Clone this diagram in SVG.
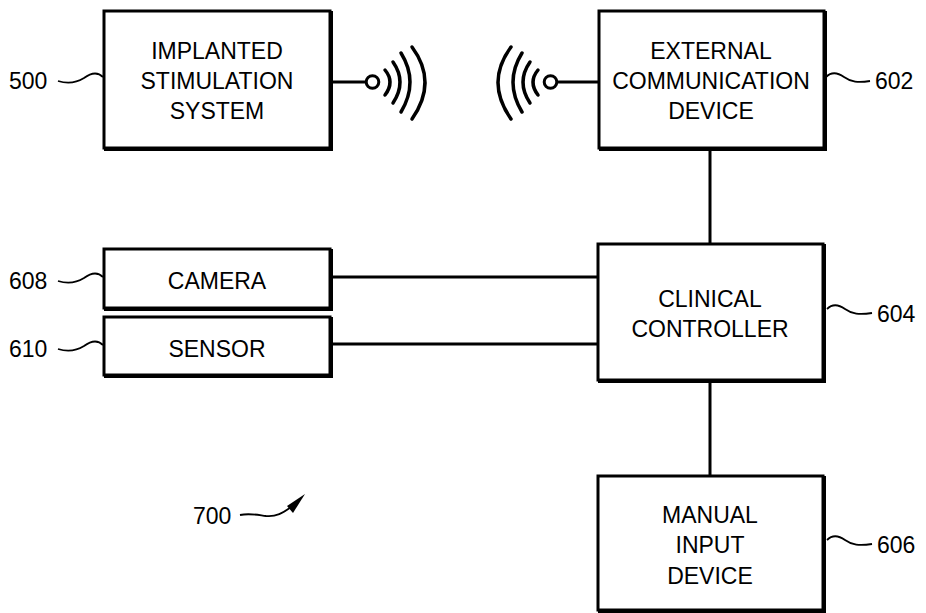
<svg xmlns="http://www.w3.org/2000/svg" width="926" height="613" viewBox="0 0 926 613">
<style>
.box{fill:#fff;stroke:#000;stroke-width:3}
.sh{fill:none;stroke:#000;stroke-width:3}
.t{font-family:"Liberation Sans",Arial,sans-serif;font-size:23px;fill:#000;text-anchor:middle}
.lab{font-family:"Liberation Sans",Arial,sans-serif;font-size:23px;fill:#000}
.ln{fill:none;stroke:#000;stroke-width:3}
.ld{fill:none;stroke:#000;stroke-width:1.8}
.arc{fill:none;stroke:#000;stroke-width:3.5;stroke-linecap:round}
</style>
<rect width="926" height="613" fill="#fff"/>
<g id="connectors">
<line class="ln" x1="332" y1="82" x2="366" y2="82"/>
<circle class="ln" cx="372.5" cy="82" r="6.3"/>
<path class="arc" d="M385,70 Q395,82 385,95"/>
<path class="arc" d="M393,62 Q407,82 393,103"/>
<path class="arc" d="M401,53 Q419,82 401,112"/>
<path class="arc" d="M412,47 Q438,82 412,119"/>
<line class="ln" x1="557" y1="82" x2="598" y2="82"/>
<circle class="ln" cx="550.5" cy="82" r="6.3"/>
<path class="arc" d="M538,70 Q528,82 538,95"/>
<path class="arc" d="M530,62 Q516,82 530,103"/>
<path class="arc" d="M522,53 Q504,82 522,112"/>
<path class="arc" d="M511,47 Q485,82 511,119"/>
<line class="ln" x1="710" y1="150" x2="710" y2="244"/>
<line class="ln" x1="710" y1="382" x2="710" y2="476"/>
<line class="ln" x1="332" y1="277" x2="598" y2="277"/>
<line class="ln" x1="332" y1="344" x2="598" y2="344"/>
</g>
<g id="node-500">
<rect class="box" x="104" y="11" width="226" height="137"/>
<path class="sh" d="M331.5,11 V149.5 H104"/>
<text class="t" x="217" y="59">IMPLANTED</text>
<text class="t" x="217" y="89">STIMULATION</text>
<text class="t" x="217" y="119">SYSTEM</text>
<text class="lab" x="9" y="89">500</text>
<path class="ld" d="M58,81 C68,84 76,83 84,78 C92,72 98,72 103,77"/>
</g>
<g id="node-602">
<rect class="box" x="599" y="11" width="225" height="137"/>
<path class="sh" d="M825.5,11 V149.5 H599"/>
<text class="t" x="711" y="59">EXTERNAL</text>
<text class="t" x="711" y="89">COMMUNICATION</text>
<text class="t" x="711" y="119">DEVICE</text>
<text class="lab" x="875" y="89">602</text>
<path class="ld" d="M826,77 C831,72 837,72 844,77 C851,82 858,83 870,81"/>
</g>
<g id="node-608">
<rect class="box" x="104" y="249" width="226" height="59"/>
<path class="sh" d="M331.5,249 V309.5 H104"/>
<text class="t" x="217" y="289">CAMERA</text>
<text class="lab" x="9" y="289">608</text>
<path class="ld" d="M58,281 C68,284 76,283 84,278 C92,272 98,272 103,277"/>
</g>
<g id="node-610">
<rect class="box" x="104" y="317" width="226" height="58"/>
<path class="sh" d="M331.5,317 V376.5 H104"/>
<text class="t" x="217" y="357">SENSOR</text>
<text class="lab" x="9" y="357">610</text>
<path class="ld" d="M58,349 C68,352 76,351 84,346 C92,340 98,340 103,345"/>
</g>
<g id="node-604">
<rect class="box" x="598" y="244" width="225" height="136"/>
<path class="sh" d="M824.5,244 V381.5 H598"/>
<text class="t" x="710" y="307">CLINICAL</text>
<text class="t" x="710" y="337">CONTROLLER</text>
<text class="lab" x="877" y="322">604</text>
<path class="ld" d="M827,309 C832,304 838,304 845,309 C852,314 859,315 872,313"/>
</g>
<g id="node-606">
<rect class="box" x="598" y="476" width="225" height="134"/>
<path class="sh" d="M824.5,476 V611.5 H598"/>
<text class="t" x="710" y="523">MANUAL</text>
<text class="t" x="710" y="553">INPUT</text>
<text class="t" x="710" y="584">DEVICE</text>
<text class="lab" x="877" y="553">606</text>
<path class="ld" d="M827,540 C832,535 838,535 845,540 C852,545 859,546 872,544"/>
</g>
<g id="ref-700">
<text class="lab" x="193" y="524">700</text>
<path class="ld" d="M240,515 C250,513 258,515 266,516 C276,517 283,513 291,507"/>
<path d="M305,494 L287,506 L293,513 Z" fill="#000"/>
</g>
</svg>
